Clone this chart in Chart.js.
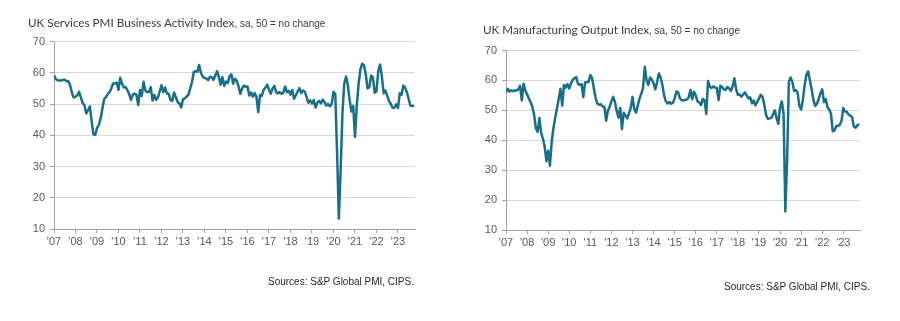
<!DOCTYPE html>
<html>
<head>
<meta charset="utf-8">
<script src="https://cdn.jsdelivr.net/npm/chart.js@4.4.1/dist/chart.umd.min.js"></script>
<style>
  html, body { margin: 0; padding: 0; background: #ffffff; }
  body { width: 900px; height: 321px; position: relative; overflow: hidden; }
  canvas { position: absolute; top: 0; }
  .title { position: absolute; white-space: nowrap; color: #3a3a3a;
           font-family: Lato, 'Open Sans', sans-serif; font-size: 11.7px; line-height: 14px; }
  .title small { font-family: 'Liberation Sans', Arial, sans-serif; font-size: 10px; }
  .source { position: absolute; white-space: nowrap; color: #262626;
            font-family: 'Liberation Sans', Arial, sans-serif; font-size: 10px; line-height: 12px; }
</style>
</head>
<body>
<canvas id="services" width="450" height="321" style="left:0"></canvas>
<canvas id="manufacturing" width="450" height="321" style="left:450px"></canvas>

<div class="title" style="left:28px; top:15px">UK Services PMI Business Activity Index<small>, sa, 50 = no change</small></div>
<div class="title" style="left:483px; top:22px">UK Manufacturing Output Index<small>, sa, 50 = no change</small></div>
<div class="source" style="left:268px; top:276px">Sources: S&amp;P Global PMI, CIPS.</div>
<div class="source" style="left:724px; top:281px">Sources: S&amp;P Global PMI, CIPS.</div>

<script>
// Monthly readings, January 2007 to October 2023 (one row per year).
const yearLabels = ["'07", "'08", "'09", "'10", "'11", "'12", "'13", "'14", "'15",
                    "'16", "'17", "'18", "'19", "'20", "'21", "'22", "'23"];

const servicesActivity = [
  59.2, 58.0, 57.6, 57.5, 57.5, 57.7, 57.8, 57.3, 57.3, 56.0, 53.6, 52.1,
  52.3, 52.7, 53.9, 52.1, 50.3, 49.6, 47.0, 48.0, 49.2, 44.5, 40.3, 40.1,
  42.3, 43.3, 45.3, 48.5, 51.6, 52.2, 53.2, 53.8, 55.0, 56.6, 56.6, 56.8,
  54.5, 58.4, 56.5, 55.3, 55.4, 54.4, 53.1, 51.3, 53.0, 53.3, 53.0, 49.7,
  54.5, 52.6, 57.1, 54.3, 53.8, 53.9, 55.4, 51.1, 52.9, 51.3, 52.1, 54.0,
  56.0, 53.8, 55.3, 53.3, 53.3, 51.3, 51.0, 53.7, 52.2, 50.6, 50.2, 48.9,
  51.5, 51.8, 52.4, 52.9, 54.9, 56.9, 60.2, 60.5, 60.3, 62.5, 60.0, 58.8,
  58.3, 58.2, 57.6, 58.7, 58.6, 57.7, 59.1, 60.5, 58.7, 56.2, 58.6, 55.8,
  57.2, 56.7, 58.9, 59.5, 56.5, 58.1, 57.4, 55.6, 53.3, 54.9, 55.9, 55.5,
  55.6, 52.7, 53.7, 52.3, 53.5, 52.3, 47.4, 52.9, 52.6, 54.5, 55.2, 56.2,
  54.5, 53.3, 55.0, 55.8, 53.8, 53.4, 53.8, 53.2, 53.6, 55.6, 53.8, 54.2,
  53.0, 54.5, 51.7, 52.8, 54.0, 55.1, 53.5, 54.3, 53.9, 52.2, 50.4, 51.2,
  50.1, 51.3, 48.9, 50.4, 51.0, 50.2, 51.4, 50.6, 49.5, 50.0, 49.3, 50.0,
  53.9, 53.2, 34.5, 13.4, 29.0, 47.1, 56.5, 58.8, 56.1, 51.4, 47.6, 49.4,
  39.5, 49.5, 56.3, 61.0, 62.9, 62.4, 59.6, 55.0, 55.4, 59.1, 58.5, 53.6,
  54.1, 60.5, 62.6, 58.9, 53.4, 54.3, 52.6, 50.9, 50.0, 48.8, 48.8, 49.9,
  48.7, 53.5, 52.9, 55.9, 55.2, 53.7, 51.5, 49.5, 49.3, 49.5
];

const manufacturingOutput = [
  56.1, 57.2, 56.3, 56.7, 56.4, 56.6, 56.6, 57.0, 58.2, 53.3, 58.9, 56.6,
  55.3, 54.0, 52.7, 51.2, 48.5, 44.0, 42.8, 47.4, 42.5, 40.5, 38.0, 33.0,
  36.5, 31.5, 39.5, 44.0, 47.5, 50.5, 53.8, 57.2, 51.6, 58.5, 57.6, 58.8,
  57.3, 59.0, 60.2, 60.8, 61.1, 58.8, 58.5, 58.8, 54.4, 59.3, 59.4, 59.5,
  61.8, 60.8, 57.3, 54.2, 52.2, 51.9, 52.0, 51.3, 51.2, 46.5, 50.0, 51.2,
  53.0, 54.5, 52.8, 49.8, 47.6, 50.8, 43.7, 49.2, 48.3, 47.3, 49.0, 50.8,
  54.5, 50.5, 49.2, 51.5, 54.0, 55.5, 57.5, 64.6, 60.0, 58.5, 61.0, 60.3,
  59.0, 57.0, 59.5, 62.3, 61.0, 58.5, 55.0, 53.0, 52.3, 52.8, 52.2, 52.5,
  54.0, 56.3, 56.0, 54.0, 53.4, 53.3, 53.5, 53.6, 54.4, 56.8, 53.7, 56.2,
  55.0, 53.0, 52.6, 51.8, 53.8, 53.3, 48.8, 59.8, 57.8, 57.5, 58.0, 57.6,
  57.5, 53.4, 58.2, 57.8, 57.0, 56.8, 57.8, 57.4, 56.5, 58.0, 60.7, 57.0,
  55.2, 55.3, 54.6, 55.3, 56.0, 55.0, 54.0, 54.3, 52.3, 53.3, 51.7, 52.8,
  54.0, 55.2, 54.5, 52.0, 48.5, 47.2, 47.3, 47.5, 48.6, 50.0, 47.5, 45.5,
  51.0, 53.0, 48.8, 16.2, 33.0, 59.5, 61.0, 59.5, 56.5, 56.8, 55.8, 51.5,
  50.3, 53.5, 58.5, 62.0, 63.0, 60.0, 57.0, 53.5, 51.5, 52.2, 53.8, 55.8,
  57.0, 52.8, 53.8, 51.0, 50.3, 48.8, 43.0, 43.2, 44.8, 44.8, 45.2, 46.5,
  50.8, 49.6, 49.5, 48.6, 48.2, 47.8, 44.6, 44.2, 45.0, 45.4
];

const LINE_COLOR = '#186f8a';
const GRID_COLOR = '#d9d9d9';
const AXIS_COLOR = '#a3a3a3';
const TICK_FONT = { family: "'Liberation Sans', Arial, sans-serif", size: 11 };
const TICK_COLOR = '#595959';
const MONTHS_PER_YEAR = 12;
const X_MAX = 201.5;

function drawIndexChart(canvasId, values, frame) {
  return new Chart(document.getElementById(canvasId), {
    type: 'line',
    data: {
      datasets: [{
        data: values.map((v, i) => ({ x: i, y: v })),
        borderColor: LINE_COLOR,
        borderWidth: 2.5,
        borderJoinStyle: 'round',
        pointRadius: 0,
        tension: 0,
        fill: false
      }]
    },
    options: {
      responsive: false,
      animation: false,
      devicePixelRatio: 1,
      layout: { padding: { left: 0, top: frame.top, right: frame.right, bottom: frame.bottom } },
      plugins: { legend: { display: false }, tooltip: { enabled: false } },
      scales: {
        x: {
          type: 'linear',
          min: 0,
          max: X_MAX,
          afterBuildTicks: s => { s.ticks = yearLabels.map((_, k) => ({ value: k * MONTHS_PER_YEAR })); },
          afterFit: s => { s.height = 30; },
          ticks: {
            autoSkip: false, maxRotation: 0, padding: 2,
            color: TICK_COLOR, font: TICK_FONT,
            callback: v => yearLabels[Math.round(v / MONTHS_PER_YEAR)]
          },
          grid: { drawOnChartArea: false, drawTicks: true, tickLength: 4, color: AXIS_COLOR, tickColor: AXIS_COLOR },
          border: { color: AXIS_COLOR, width: 1 }
        },
        y: {
          min: 10,
          max: 70,
          afterFit: s => { s.width = frame.axisWidth; },
          ticks: { stepSize: 10, padding: 5, color: TICK_COLOR, font: TICK_FONT },
          grid: { color: GRID_COLOR, drawTicks: true, tickLength: 4, tickColor: AXIS_COLOR },
          border: { color: AXIS_COLOR, width: 1 }
        }
      }
    }
  });
}

drawIndexChart('services', servicesActivity, { top: 41.5, right: 35, bottom: 62, axisWidth: 54 });
drawIndexChart('manufacturing', manufacturingOutput, { top: 50.5, right: 40, bottom: 61, axisWidth: 56 });
</script>
</body>
</html>
